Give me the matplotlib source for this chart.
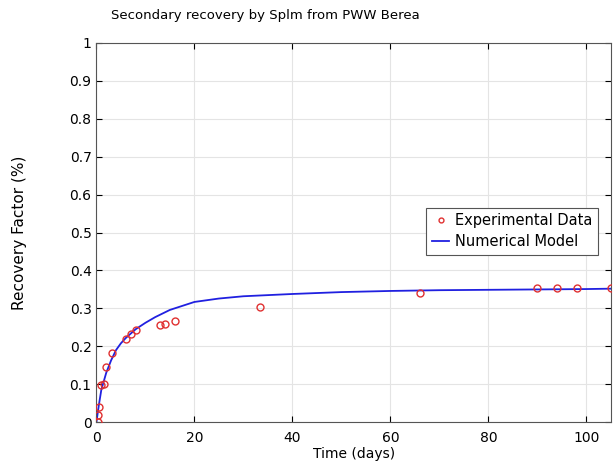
import numpy as np
import matplotlib.pyplot as plt

exp_t = [0.3, 0.4, 0.5, 1.0, 1.6, 2.0, 3.1, 6.0, 7.0, 8.0, 13.0, 14.0, 16.0, 33.3, 66.0, 90.0, 94.0, 98.0, 105.0]
exp_rf = [0.0, 0.02, 0.04, 0.098, 0.10, 0.146, 0.183, 0.22, 0.232, 0.243, 0.255, 0.26, 0.267, 0.305, 0.34, 0.355, 0.355, 0.355, 0.355]

# numerical model curve
mod_t = [0, 0.5, 1, 2, 3, 4, 5, 6, 8, 10, 12, 15, 20, 25, 30, 40, 50, 60, 70, 80, 90, 100, 105]
mod_rf = [0, 0.045, 0.085, 0.13, 0.163, 0.19, 0.208, 0.222, 0.245, 0.262, 0.277, 0.296, 0.317, 0.326, 0.332, 0.338, 0.343, 0.346, 0.348, 0.349, 0.350, 0.351, 0.352]

plt.rcParams['font.family'] = ['DejaVu Sans']
fig = plt.figure(figsize=(6.14, 4.66), dpi=100)
ax = fig.add_axes([0.157, 0.094, 0.838, 0.814])

ax.plot(exp_t, exp_rf, 'o', mfc='none', mec='#e03030', ms=5, mew=1.0,
        label='Experimental Data', zorder=3)
ax.plot(mod_t, mod_rf, '-', color='#2020e0', lw=1.3, label='Numerical Model', zorder=2)

ax.set_xlim(0, 105)
ax.set_ylim(0, 1)
ax.set_xticks([0, 20, 40, 60, 80, 100])
ax.set_yticks(np.arange(0, 1.01, 0.1))
ax.set_yticklabels(['0', '0.1', '0.2', '0.3', '0.4', '0.5', '0.6', '0.7', '0.8', '0.9', '1'])
ax.grid(True, color='#e4e4e4', lw=0.8)
ax.set_axisbelow(True)
ax.tick_params(direction='in', top=True, right=True, labelsize=10, length=4)
ax.tick_params(axis='x', pad=6)
for s in ax.spines.values():
    s.set_color('#555555')

fig.text(0.432, 0.966, 'Secondary recovery by Splm from PWW Berea', fontsize=9.5,
         ha='center', va='center')
ax.set_xlabel('Time (days)', fontsize=10, labelpad=2)
ax.set_ylabel('Recovery Factor (%)', fontsize=11)
ax.yaxis.set_label_coords(-0.135, 0.5)

leg = ax.legend(loc='upper right', bbox_to_anchor=(0.99, 0.585), fontsize=10.5,
                fancybox=False, edgecolor='#555555', framealpha=1,
                handlelength=1.2, handletextpad=0.4, markerscale=0.7, borderpad=0.4,
                labelspacing=0.4)
leg.get_frame().set_linewidth(0.8)

fig.savefig('out.png', dpi=100)
